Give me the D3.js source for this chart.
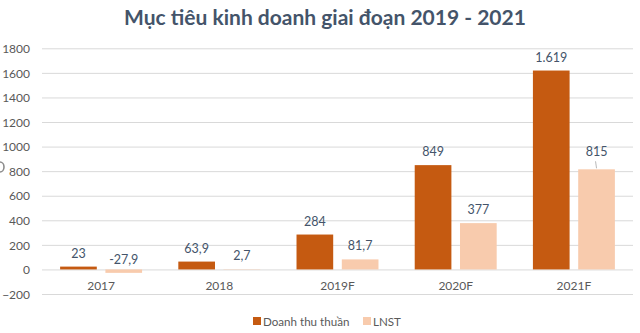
<!DOCTYPE html>
<html>
<head>
<meta charset="utf-8">
<script src="https://cdn.jsdelivr.net/npm/d3@7"></script>
<style>
  body { margin: 0; background: #fff; }
  svg { display: block; font-family: Lato, "Open Sans", sans-serif; }
</style>
</head>
<body>
<svg id="chart" width="640" height="333"></svg>
<script>
// data
var years = ["2017", "2018", "2019F", "2020F", "2021F"];
var seriesNames = ["Doanh thu thuần", "LNST"];
var revenue = [23, 63.9, 284, 849, 1619];
var profit = [-27.9, 2.7, 81.7, 377, 815];
var revenueLabels = ["23", "63,9", "284", "849", "1.619"];
var profitLabels = ["-27,9", "2,7", "81,7", "377", "815"];
var yTicks = [-200, 0, 200, 400, 600, 800, 1000, 1200, 1400, 1600, 1800];
var colors = ["#C55A11", "#F8CBAD"];

var svg = d3.select("#chart");

var x0 = d3.scaleBand().domain(years).range([42, 633]).padding(0);
var x1 = d3.scaleBand().domain(seriesNames).range([0, x0.bandwidth()])
  .paddingInner(0.19).paddingOuter(0.4);
var y = d3.scaleLinear().domain([-200, 1800]).range([294, 48.3]);

// title
svg.append("text")
  .attr("x", 325).attr("y", 25)
  .attr("text-anchor", "middle")
  .attr("font-size", 21).attr("font-weight", "bold")
  .attr("fill", "#44546A")
  .text("Mục tiêu kinh doanh giai đoạn 2019 - 2021");

// cut-off mark at left edge (the reference shows only its right half)
svg.append("path")
  .attr("d", "M0,162 A4,5 0 0 1 0,172")
  .attr("fill", "none").attr("stroke", "#8C8C8C").attr("stroke-width", 1.6);

// grid
var yAxis = d3.axisLeft(y).tickValues(yTicks).tickSize(-(633 - 42)).tickPadding(12)
  .tickFormat(d3.format("d"));
var gy = svg.append("g").attr("transform", "translate(42,0)").call(yAxis);
gy.select(".domain").remove();
gy.selectAll(".tick line").attr("stroke", "#D9D9D9").attr("stroke-width", 1)
  .attr("x1", 0);
gy.selectAll(".tick text").attr("fill", "#595959").attr("font-size", 12)
  .attr("font-family", "Lato, sans-serif").attr("dy", "0.35em");

// bars
var rows = years.map(function (yr, i) {
  return { year: yr, vals: [
    { s: seriesNames[0], v: revenue[i], label: revenueLabels[i], c: colors[0] },
    { s: seriesNames[1], v: profit[i], label: profitLabels[i], c: colors[1] }
  ] };
});

var groups = svg.selectAll("g.grp").data(rows).enter().append("g")
  .attr("class", "grp")
  .attr("transform", function (d) { return "translate(" + x0(d.year) + ",0)"; });

groups.selectAll("rect").data(function (d) { return d.vals; }).enter().append("rect")
  .attr("x", function (d) { return x1(d.s); })
  .attr("width", x1.bandwidth())
  .attr("y", function (d) { return y(Math.max(0, d.v)); })
  .attr("height", function (d) { return Math.abs(y(d.v) - y(0)); })
  .attr("fill", function (d) { return d.c; });

// data labels
groups.selectAll("text.lbl").data(function (d) { return d.vals; }).enter().append("text")
  .attr("class", "lbl")
  .attr("x", function (d) { return x1(d.s) + x1.bandwidth() / 2; })
  .attr("y", function (d) {
    if (d.v < 0) return y(0) - 5;
    return y(d.v) - 9 - (d.label === "815" ? 4 : 0);
  })
  .attr("text-anchor", "middle")
  .attr("font-size", 12.5).attr("fill", "#44546A")
  .text(function (d) { return d.label; });

// leader line for 815
var last = years.length - 1;
var lx = x0(years[last]) + x1(seriesNames[1]) + x1.bandwidth() / 2;
svg.append("line")
  .attr("x1", lx - 1).attr("y1", y(profit[last]) - 8)
  .attr("x2", lx).attr("y2", y(profit[last]) - 1)
  .attr("stroke", "#A6A6A6").attr("stroke-width", 0.8);

// category labels
svg.selectAll("text.cat").data(years).enter().append("text")
  .attr("class", "cat")
  .attr("x", function (d) { return x0(d) + x0.bandwidth() / 2; })
  .attr("y", 290)
  .attr("text-anchor", "middle")
  .attr("font-size", 12).attr("fill", "#595959")
  .text(function (d) { return d; });

// legend
var legX = [253, 363];
var leg = svg.selectAll("g.leg").data(seriesNames).enter().append("g")
  .attr("class", "leg")
  .attr("transform", function (d, i) { return "translate(" + legX[i] + ",317)"; });
leg.append("rect").attr("width", 8).attr("height", 8)
  .attr("fill", function (d, i) { return colors[i]; });
leg.append("text").attr("x", 10).attr("y", 8.5)
  .attr("font-size", 11.6).attr("fill", "#595959")
  .text(function (d) { return d; });
</script>
</body>
</html>
